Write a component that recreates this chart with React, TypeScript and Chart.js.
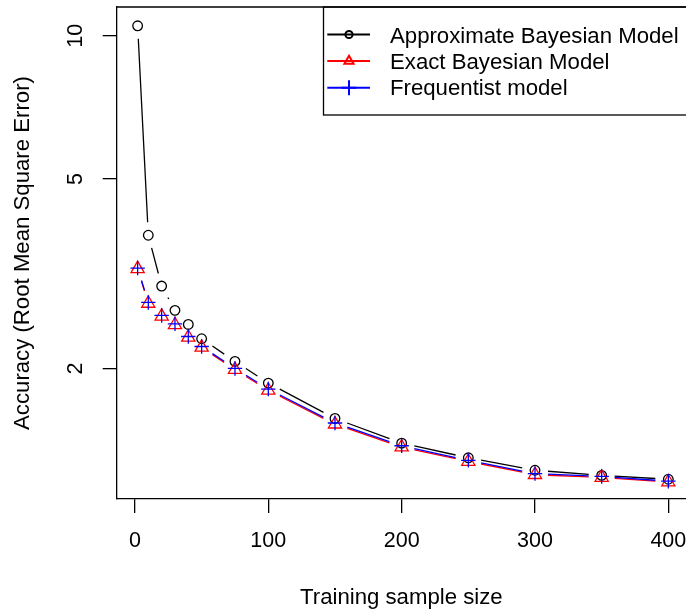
import React, { useEffect, useRef } from "react";
import { Chart, registerables } from "chart.js";

Chart.register(...registerables);

// ---- data ----
const sampleSizes = [2, 10, 20, 30, 40, 50, 75, 100, 150, 200, 250, 300, 350, 400];
const approxBayes = [10.49, 3.81, 2.98, 2.65, 2.475, 2.31, 2.07, 1.864, 1.571, 1.394, 1.299, 1.223, 1.193, 1.171];
const exactBayes = [3.24, 2.74, 2.575, 2.47, 2.325, 2.215, 1.99, 1.8, 1.528, 1.368, 1.276, 1.197, 1.181, 1.155];
const frequentist = [3.25, 2.753, 2.585, 2.483, 2.335, 2.225, 2.001, 1.811, 1.537, 1.377, 1.283, 1.203, 1.187, 1.16];
const xTicks = [0, 100, 200, 300, 400];
const yTicks = [2, 5, 10];
const seriesLabels = ["Approximate Bayesian Model", "Exact Bayesian Model", "Frequentist model"];
const seriesColors = ["#000000", "#ff0000", "#0000ff"];
const seriesMarkers = ["circle", "triangle", "cross"];
const xTitle = "Training sample size";
const yTitle = "Accuracy (Root Mean Square Error)";

const FONT = "'Liberation Sans', Arial, Helvetica, sans-serif";

function drawMarker(ctx: CanvasRenderingContext2D, style: string, x: number, y: number, r: number) {
  ctx.beginPath();
  if (style === "circle") {
    ctx.arc(x, y, r, 0, Math.PI * 2);
  } else if (style === "triangle") {
    for (let k = 0; k < 3; k++) {
      const a = (k * 2 * Math.PI) / 3;
      const px = x + Math.sin(a) * r;
      const py = y - Math.cos(a) * r;
      if (k === 0) ctx.moveTo(px, py);
      else ctx.lineTo(px, py);
    }
    ctx.closePath();
  } else {
    ctx.moveTo(x - r, y);
    ctx.lineTo(x + r, y);
    ctx.moveTo(x, y - r);
    ctx.lineTo(x, y + r);
  }
  ctx.stroke();
}

// R "type = b" lines: segments between points, with a gap around each point
const gapLinePlugin = {
  id: "gapLines",
  beforeDatasetDraw(chart: any, args: any) {
    const ds = chart.data.datasets[args.index];
    const pts = args.meta.data;
    const ctx: CanvasRenderingContext2D = chart.ctx;
    const gap = 13;
    const a = chart.chartArea;
    ctx.save();
    ctx.beginPath();
    ctx.rect(a.left, a.top, a.right - a.left, a.bottom - a.top);
    ctx.clip();
    ctx.strokeStyle = ds.borderColor;
    ctx.lineWidth = 1.3;
    ctx.beginPath();
    for (let i = 0; i < pts.length - 1; i++) {
      const p0 = pts[i];
      const p1 = pts[i + 1];
      const dx = p1.x - p0.x;
      const dy = p1.y - p0.y;
      const len = Math.hypot(dx, dy);
      if (len <= 2 * gap) continue;
      const ux = dx / len;
      const uy = dy / len;
      ctx.moveTo(p0.x + ux * gap, p0.y + uy * gap);
      ctx.lineTo(p1.x - ux * gap, p1.y - uy * gap);
    }
    ctx.stroke();
    ctx.restore();
  },
};

const framePlugin = {
  id: "frameLegend",
  afterDraw(chart: any) {
    const ctx: CanvasRenderingContext2D = chart.ctx;
    const a = chart.chartArea;
    ctx.save();
    // top frame line (right side lies outside the picture)
    ctx.strokeStyle = "#000";
    ctx.lineWidth = 1.3;
    ctx.beginPath();
    ctx.moveTo(a.left, a.top);
    ctx.lineTo(a.right + 10, a.top);
    ctx.stroke();

    // y tick labels (rotated, as in R)
    const ys = chart.scales.y;
    ctx.fillStyle = "#000";
    ctx.font = `21.5px ${FONT}`;
    ctx.textAlign = "center";
    ctx.textBaseline = "alphabetic";
    ys.ticks.forEach((t: any) => {
      const py = ys.getPixelForValue(t.value);
      ctx.save();
      ctx.translate(81.7, py);
      ctx.rotate(-Math.PI / 2);
      ctx.fillText(String(t.value), 0, 0);
      ctx.restore();
    });

    // legend box
    ctx.lineWidth = 1.3;
    ctx.strokeRect(323.5, a.top, 420, 108);
    ctx.font = `22.2px ${FONT}`;
    ctx.textAlign = "left";
    chart.data.datasets.forEach((ds: any, i: number) => {
      const y = 34.5 + i * 26.6;
      ctx.strokeStyle = ds.borderColor;
      ctx.lineWidth = 2;
      ctx.beginPath();
      ctx.moveTo(327.3, y);
      ctx.lineTo(370, y);
      ctx.stroke();
      const style = ds.pointStyle;
      const r = style === "circle" ? 3.6 : style === "triangle" ? 5.3 : 7.5;
      drawMarker(ctx, style, 349, y, r);
      ctx.fillStyle = "#000";
      ctx.fillText(ds.label, 390, 42.6 + i * 26);
    });
    ctx.restore();
  },
};

export default function App() {
  const ref = useRef<HTMLCanvasElement>(null);
  useEffect(() => {
    document.body.style.margin = "0";
    const series = [approxBayes, exactBayes, frequentist];
    const markerRadius = [4.8, 7.6, 7.2];
    const orders = [3, 2, 1];
    const chart = new Chart(ref.current as HTMLCanvasElement, {
      type: "scatter",
      data: {
        datasets: series.map((vals, i) => ({
          label: seriesLabels[i],
          data: sampleSizes.map((x, j) => ({ x, y: vals[j] })),
          borderColor: seriesColors[i],
          backgroundColor: "transparent",
          pointStyle: seriesMarkers[i] as any,
          pointRadius: markerRadius[i],
          pointBorderWidth: 1.3,
          pointBorderColor: seriesColors[i],
          pointBackgroundColor: "transparent",
          showLine: false,
          order: orders[i],
        })),
      },
      options: {
        responsive: false,
        animation: false,
        devicePixelRatio: 1,
        events: [],
        layout: { padding: { top: 7, left: 0, right: 0, bottom: 0 }, autoPadding: false },
        plugins: { legend: { display: false }, tooltip: { enabled: false } },
        scales: {
          x: {
            type: "linear",
            min: -13.7,
            max: 413.25,
            afterBuildTicks: (s: any) => {
              s.ticks = xTicks.map((v) => ({ value: v }));
            },
            afterFit: (s: any) => {
              s.height = 111;
              s.paddingLeft = 0;
              s.paddingRight = 0;
              s.paddingTop = 0;
              s.paddingBottom = 0;
            },
            ticks: {
              font: { family: FONT, size: 21.5 },
              color: "#000",
              padding: 15,
              maxRotation: 0,
              minRotation: 0,
              autoSkip: false,
              callback: (v: any) => String(v),
            },
            grid: { drawOnChartArea: false, drawTicks: true, tickLength: 14, color: "#000", lineWidth: 1.3 },
            border: { display: true, color: "#000", width: 1.3 },
            title: {
              display: true,
              text: xTitle,
              color: "#000",
              font: { family: FONT, size: 22.2, lineHeight: 1 },
              padding: { top: 0, bottom: 1 },
            },
          },
          y: {
            type: "logarithmic",
            min: 1.0643,
            max: 11.488,
            afterBuildTicks: (s: any) => {
              s.ticks = yTicks.map((v) => ({ value: v }));
            },
            afterFit: (s: any) => {
              s.width = 116.7;
              s.paddingLeft = 0;
              s.paddingRight = 0;
              s.paddingTop = 0;
              s.paddingBottom = 0;
            },
            ticks: { display: false },
            grid: { drawOnChartArea: false, drawTicks: true, tickLength: 14, color: "#000", lineWidth: 1.3 },
            border: { display: true, color: "#000", width: 1.3 },
            title: {
              display: true,
              text: yTitle,
              color: "#000",
              font: { family: FONT, size: 22.2, lineHeight: 1 },
              padding: { top: 12, bottom: 0 },
            },
          },
        },
      },
      plugins: [gapLinePlugin, framePlugin],
    } as any);
    return () => chart.destroy();
  }, []);
  return <canvas ref={ref} width={686} height={610} style={{ display: "block", width: 686, height: 610 }} />;
}
